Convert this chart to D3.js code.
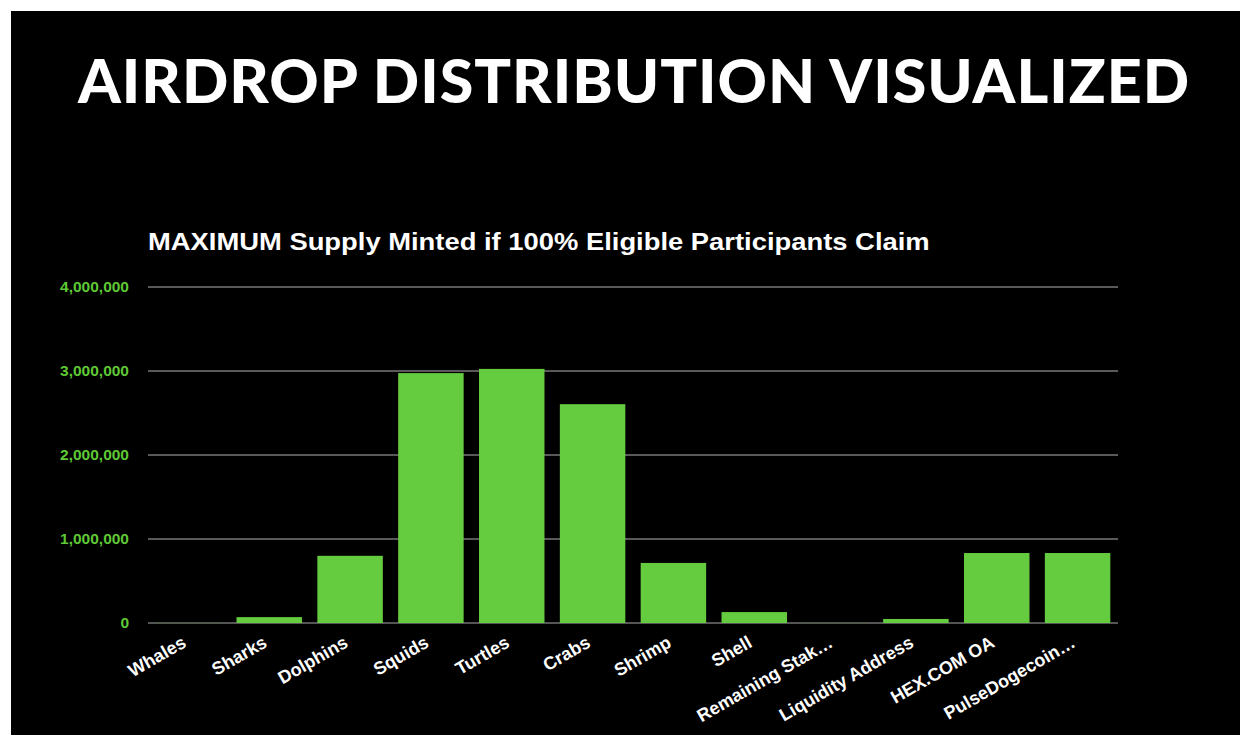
<!DOCTYPE html>
<html>
<head>
<meta charset="utf-8">
<script src="https://cdn.jsdelivr.net/npm/d3@7"></script>
<style>
  html, body { margin: 0; padding: 0; background: #fff; }
  svg { display: block; }
</style>
</head>
<body>
<svg id="chart" width="1240" height="735"></svg>
<script>
// data
const categories = ['Whales', 'Sharks', 'Dolphins', 'Squids', 'Turtles', 'Crabs', 'Shrimp',
  'Shell', 'Remaining Stak…', 'Liquidity Address', 'HEX.COM OA', 'PulseDogecoin…'];
const supply = [5000, 70000, 800000, 2975000, 3025000, 2605000, 715000,
  130000, 5000, 48000, 833000, 833000];
const yTicks = [0, 1000000, 2000000, 3000000, 4000000];

const svg = d3.select('#chart');

// black slide background, white border left/top
svg.append('rect')
  .attr('x', 11).attr('y', 11)
  .attr('width', 1229).attr('height', 724)
  .attr('fill', '#000');

// big title - size it so it spans 78..1190
const title = svg.append('text')
  .attr('x', 78).attr('y', 103)
  .style('font-family', 'Lato, "Open Sans", sans-serif')
  .style('font-weight', 900)
  .style('font-size', '66px')
  .style('letter-spacing', '1px')
  .style('fill', '#fff')
  .text('AIRDROP DISTRIBUTION VISUALIZED');
let w = title.node().getComputedTextLength();
title.style('font-size', (66 * 1110 / w) + 'px');

// chart title - taller, narrower glyphs like the reference
const sub = svg.append('text')
  .style('font-family', '"Liberation Sans", Arial, sans-serif')
  .style('font-weight', 'bold')
  .style('font-size', '24px')
  .style('fill', '#fff')
  .text('MAXIMUM Supply Minted if 100% Eligible Participants Claim');
w = sub.node().getComputedTextLength();
sub.attr('transform', `translate(148,250) scale(${782 / w},1)`);

const plotL = 148, plotR = 1118, plotT = 287, plotB = 623;

const x = d3.scaleBand().domain(categories).range([plotL, plotR]).paddingInner(0.19).paddingOuter(0.095);
const y = d3.scaleLinear().domain([0, 4000000]).range([plotB, plotT]);

// gridlines
svg.append('g')
  .selectAll('line')
  .data(yTicks)
  .join('line')
  .attr('x1', plotL).attr('x2', plotR)
  .attr('y1', d => y(d)).attr('y2', d => y(d))
  .attr('stroke', d => d === 0 ? '#555' : '#777')
  .attr('stroke-width', d => d === 0 ? 2 : 1.3);

// y axis labels
const yAxis = d3.axisLeft(y).tickValues(yTicks).tickSize(0).tickPadding(0)
  .tickFormat(d3.format(','));
svg.append('g')
  .attr('transform', 'translate(129,0)')
  .call(yAxis)
  .call(g => g.select('.domain').remove())
  .selectAll('text')
  .style('font-family', '"Liberation Sans", Arial, sans-serif')
  .style('font-weight', 'bold')
  .style('font-size', '15.5px')
  .style('fill', '#5ec935');

// bars
svg.append('g')
  .selectAll('rect')
  .data(categories)
  .join('rect')
  .attr('x', d => x(d))
  .attr('width', x.bandwidth())
  .attr('y', (d, i) => y(supply[i]))
  .attr('height', (d, i) => plotB - y(supply[i]))
  .attr('fill', (d, i) => supply[i] < 10000 ? '#3d6b2a' : '#66cc3f');

// x labels, rotated
svg.append('g')
  .selectAll('text')
  .data(categories)
  .join('text')
  .attr('transform', d => `translate(${x(d) + x.bandwidth() / 2 - 1},${plotB + 23}) rotate(-30)`)
  .attr('text-anchor', 'end')
  .style('font-family', '"Liberation Sans", Arial, sans-serif')
  .style('font-weight', 'bold')
  .style('font-size', '18px')
  .style('fill', '#fff')
  .text(d => d);
</script>
</body>
</html>
